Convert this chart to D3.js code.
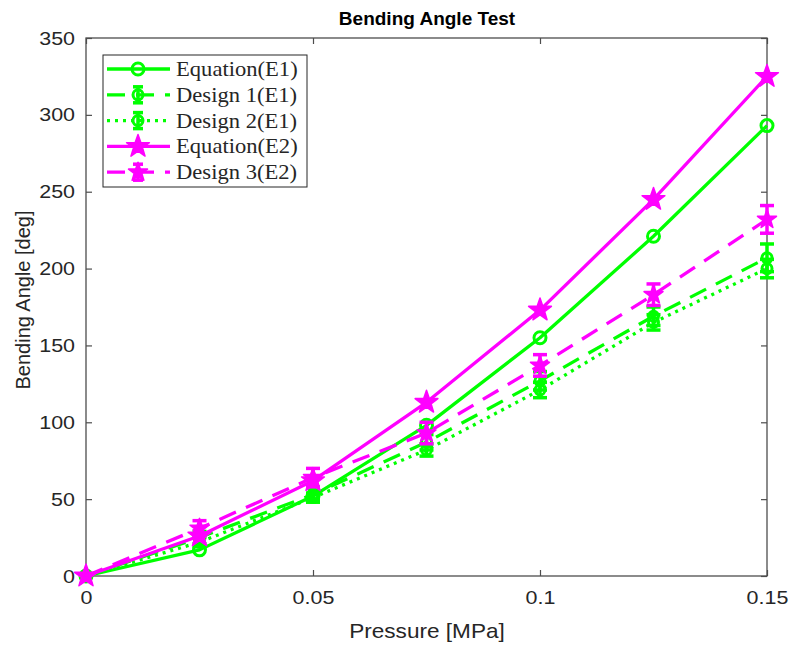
<!DOCTYPE html>
<html>
<head>
<meta charset="utf-8">
<script src="https://cdnjs.cloudflare.com/ajax/libs/d3/7.8.5/d3.min.js"></script>
<style>
body { margin: 0; background: #fff; }
svg { display: block; }
</style>
</head>
<body>
<svg width="789" height="645"></svg>
<script>
// values
var pressure = [0, 0.025, 0.05, 0.075, 0.1, 0.125, 0.15];
var eqE1 = [0, 17, 52, 98, 155, 221, 293];
var design1 = [0, 25, 53, 87, 127, 169, 207];
var design1Err = [0, 4, 4, 5, 6, 6, 9];
var design2 = [0, 22, 51, 82, 121, 165, 200];
var design2Err = [0, 3, 3, 4, 5, 5, 6];
var eqE2 = [0, 26, 62, 113, 173, 245, 325];
var design3 = [0, 31, 64, 93, 137, 183, 232];
var design3Err = [0, 5, 6, 7, 7, 7, 9];

var xTicks = [0, 0.05, 0.1, 0.15];
var yTicks = [0, 50, 100, 150, 200, 250, 300, 350];

var green = "#00ff00", magenta = "#ff00ff", ink = "#262626";
var stretch = 1.13; // picture text is a bit wider than the font

var series = [
	{name: "Equation(E1)", values: eqE1, err: null, color: green, dash: null, marker: "circle", r: 6},
	{name: "Design 1(E1)", values: design1, err: design1Err, color: green, dash: "18,11", marker: "circle", r: 5},
	{name: "Design 2(E1)", values: design2, err: design2Err, color: green, dash: "3,5", marker: "circle", r: 5},
	{name: "Equation(E2)", values: eqE2, err: null, color: magenta, dash: null, marker: "star", r: 12},
	{name: "Design 3(E2)", values: design3, err: design3Err, color: magenta, dash: "18,11", marker: "star", r: 10}
];

var svg = d3.select("svg");
var pLeft = 86, pRight = 767, pTop = 38, pBottom = 576;

var x = d3.scaleLinear().domain([0, 0.15]).range([pLeft, pRight]);
var y = d3.scaleLinear().domain([0, 350]).range([pBottom, pTop]);

var starPath = function(R) {
	var pts = [], ri = R * 0.4;
	for (var i = 0; i < 10; i++) {
		var a = -Math.PI / 2 + i * Math.PI / 5;
		var rr = i % 2 == 0 ? R : ri;
		pts.push([rr * Math.cos(a), rr * Math.sin(a)]);
	}
	return "M" + pts.map(function(p) { return p[0].toFixed(2) + "," + p[1].toFixed(2); }).join("L") + "Z";
}

var drawMarker = function(g, s, cx, cy) {
	if (s.marker == "circle") {
		g.append("circle").attr("cx", cx).attr("cy", cy).attr("r", s.r)
			.attr("fill", "none").attr("stroke", s.color).attr("stroke-width", 3);
	} else {
		g.append("path").attr("d", starPath(s.r))
			.attr("transform", "translate(" + cx + "," + cy + ")")
			.attr("fill", s.color).attr("stroke", s.color).attr("stroke-width", 1.5)
			.attr("stroke-linejoin", "round");
	}
}

// axes box
svg.append("rect").attr("x", pLeft).attr("y", pTop)
	.attr("width", pRight - pLeft).attr("height", pBottom - pTop)
	.attr("fill", "#fff").attr("stroke", "#4d4d4d").attr("stroke-width", 1.3);

var xAxisB = d3.axisBottom(x).tickValues(xTicks).tickSize(-6).tickFormat(d3.format("")).tickPadding(15);
var xAxisT = d3.axisTop(x).tickValues(xTicks).tickSize(-6).tickFormat("");
var yAxisL = d3.axisLeft(y).tickValues(yTicks).tickSize(-6).tickPadding(11);
var yAxisR = d3.axisRight(y).tickValues(yTicks).tickSize(-6).tickFormat("");

var styleAxis = function(g) {
	g.select(".domain").remove();
	g.selectAll(".tick line").attr("stroke", "#4d4d4d").attr("stroke-width", 1.2);
	g.selectAll(".tick text").attr("fill", ink).attr("font-family", "Liberation Sans, Arial, sans-serif").attr("font-size", 19)
		.each(function() {
			var t = d3.select(this), tx = +t.attr("x") || 0;
			t.attr("x", 0).attr("transform", "translate(" + tx + ",0) scale(" + stretch + ",1)");
		});
}

svg.append("g").attr("transform", "translate(0," + pBottom + ")").call(xAxisB).call(styleAxis);
svg.append("g").attr("transform", "translate(0," + pTop + ")").call(xAxisT).call(styleAxis);
svg.append("g").attr("transform", "translate(" + pLeft + ",0)").call(yAxisL).call(styleAxis);
svg.append("g").attr("transform", "translate(" + pRight + ",0)").call(yAxisR).call(styleAxis);

// series
var line = d3.line().x(function(d) { return x(d[0]); }).y(function(d) { return y(d[1]); });

series.forEach(function(s) {
	var g = svg.append("g");
	var pts = pressure.map(function(p, i) { return [p, s.values[i]]; });
	g.append("path").attr("d", line(pts))
		.attr("fill", "none").attr("stroke", s.color).attr("stroke-width", 3.3)
		.attr("stroke-dasharray", s.dash).attr("stroke-linejoin", "round");
	if (s.err) {
		pts.forEach(function(d, i) {
			var e = s.err[i], cx = x(d[0]);
			if (!e) return;
			var y0 = y(d[1] - e), y1 = y(d[1] + e);
			g.append("line").attr("x1", cx).attr("x2", cx).attr("y1", y0).attr("y2", y1)
				.attr("stroke", s.color).attr("stroke-width", 3.5);
			[y0, y1].forEach(function(yy) {
				g.append("line").attr("x1", cx - 7).attr("x2", cx + 7).attr("y1", yy).attr("y2", yy)
					.attr("stroke", s.color).attr("stroke-width", 3.5);
			});
		});
	}
	pts.forEach(function(d) { drawMarker(g, s, x(d[0]), y(d[1])); });
});

// legend
var lg = svg.append("g");
lg.append("rect").attr("x", 103).attr("y", 55).attr("width", 204).attr("height", 132)
	.attr("fill", "#fff").attr("stroke", ink).attr("stroke-width", 1);
series.forEach(function(s, i) {
	var ly = 69 + i * 25.8;
	lg.append("line").attr("x1", 107).attr("x2", 170).attr("y1", ly).attr("y2", ly)
		.attr("stroke", s.color).attr("stroke-width", 3.3).attr("stroke-dasharray", s.dash);
	if (s.err) {
		lg.append("line").attr("x1", 138).attr("x2", 138).attr("y1", ly - 8).attr("y2", ly + 8)
			.attr("stroke", s.color).attr("stroke-width", 3.5);
		[ly - 8, ly + 8].forEach(function(yy) {
			lg.append("line").attr("x1", 133).attr("x2", 143).attr("y1", yy).attr("y2", yy)
				.attr("stroke", s.color).attr("stroke-width", 3.5);
		});
	}
	drawMarker(lg, s, 138, ly);
	lg.append("text").attr("transform", "translate(176," + (ly + 7) + ") scale(" + stretch + ",1)").text(s.name)
		.attr("font-family", "Liberation Serif, Times New Roman, serif").attr("font-size", 20).attr("fill", ink);
});

// titles
svg.append("text").attr("x", 427).attr("y", 25).attr("text-anchor", "middle")
	.attr("font-family", "Liberation Sans, Arial, sans-serif").attr("font-weight", "bold")
	.attr("font-size", 19).attr("fill", "#000").text("Bending Angle Test");
svg.append("text").attr("transform", "translate(427,638) scale(" + stretch + ",1)").attr("text-anchor", "middle")
	.attr("font-family", "Liberation Sans, Arial, sans-serif")
	.attr("font-size", 20).attr("fill", ink).text("Pressure [MPa]");
svg.append("text").attr("transform", "translate(30,300) rotate(-90)").attr("text-anchor", "middle")
	.attr("font-family", "Liberation Sans, Arial, sans-serif")
	.attr("font-size", 20).attr("fill", ink).text("Bending Angle [deg]");
</script>
</body>
</html>
